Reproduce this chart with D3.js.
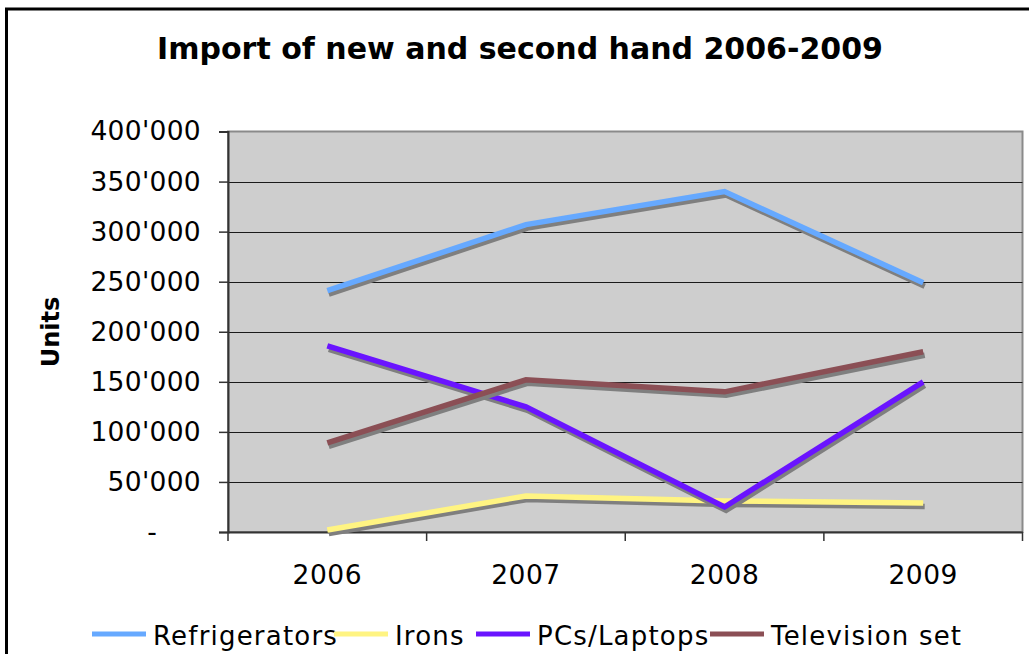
<!DOCTYPE html>
<html>
<head>
<meta charset="utf-8">
<script src="https://cdn.jsdelivr.net/npm/d3@7"></script>
<style>
  html, body { margin: 0; padding: 0; background: #fff; }
  svg { display: block; font-family: "DejaVu Sans", Verdana, sans-serif; }
</style>
</head>
<body>
<svg id="chart" width="1029" height="654"></svg>
<script>
const years = ["2006", "2007", "2008", "2009"];
const seriesNames = ["Refrigerators", "Irons", "PCs/Laptops", "Television set"];
const refrigerators = [241000, 307000, 340000, 249000];
const irons = [2000, 36000, 31000, 29000];
const pcsLaptops = [186000, 125000, 25000, 150000];
const televisionSet = [89000, 152000, 140000, 180000];
const yTicks = [0, 50000, 100000, 150000, 200000, 250000, 300000, 350000, 400000];
const colors = ["#66a9ff", "#fff482", "#6a14ff", "#8b4f55"];
const titleText = "Import of new and second hand 2006-2009";
const yTitle = "Units";

const seriesValues = [refrigerators, irons, pcsLaptops, televisionSet];

const svg = d3.select("#chart");
const L = 228, R = 1022.5, T = 131.5, B = 532;

// outer frame
svg.append("rect").attr("x", 6.5).attr("y", 9).attr("width", 1060).attr("height", 700)
  .attr("fill", "#fff").attr("stroke", "#000").attr("stroke-width", 3);

// title
svg.append("text").attr("x", 520).attr("y", 59).attr("text-anchor", "middle")
  .attr("font-weight", "bold").attr("font-size", 30).text(titleText);

const x = d3.scaleBand().domain(years).range([L, R]);
const y = d3.scaleLinear().domain([0, 400000]).range([B, T]);

// plot area
svg.append("rect").attr("x", L).attr("y", T).attr("width", R - L).attr("height", B - T)
  .attr("fill", "#cecece").attr("stroke", "#8a8a8a").attr("stroke-width", 2);

// gridlines
svg.append("g").selectAll("line").data(yTicks.filter(d => d > 0 && d < 400000)).join("line")
  .attr("x1", L).attr("x2", R).attr("y1", d => Math.round(y(d)) + 0.5).attr("y2", d => Math.round(y(d)) + 0.5)
  .attr("stroke", "#1a1a1a").attr("stroke-width", 1.2);

// y axis
const fmt = v => v === 0 ? "-" : d3.format(",")(v).replace(/,/g, "'");
const yAxis = d3.axisLeft(y).tickValues(yTicks).tickFormat(fmt).tickSize(9).tickPadding(18);
const gy = svg.append("g").attr("transform", `translate(${L},0)`).call(yAxis);
gy.select(".domain").attr("stroke", "#333").attr("stroke-width", 2);
gy.selectAll(".tick line").attr("stroke", "#333").attr("stroke-width", 1.5);
gy.selectAll(".tick text").attr("font-size", 26.5).attr("fill", "#000")
  .attr("font-family", "DejaVu Sans, Verdana, sans-serif").attr("letter-spacing", 0.3);
// accounting-style dash for zero sits left of the right edge
gy.selectAll(".tick text").filter(d => d === 0).attr("dx", -44);

// x axis
const xAxis = d3.axisBottom(x).tickSize(0).tickPadding(28);
const gx = svg.append("g").attr("transform", `translate(0,${B})`).call(xAxis);
gx.select(".domain").attr("stroke", "#333").attr("stroke-width", 2);
gx.selectAll(".tick text").attr("font-size", 26.5).attr("fill", "#000")
  .attr("font-family", "DejaVu Sans, Verdana, sans-serif").attr("dy", "0.9em").attr("letter-spacing", 0.5);
const bounds = years.map(d => x(d)).concat([x(years[years.length - 1]) + x.bandwidth()]);
gx.append("g").selectAll("line").data(bounds).join("line")
  .attr("x1", d => d).attr("x2", d => d).attr("y1", 0).attr("y2", 9)
  .attr("stroke", "#333").attr("stroke-width", 1.5);

// y title
svg.append("text").attr("transform", "translate(59,332) rotate(-90)").attr("text-anchor", "middle")
  .attr("font-weight", "bold").attr("font-size", 24).text(yTitle);

// lines with shadows
const line = d3.line().x((d, i) => x(years[i]) + x.bandwidth() / 2).y(d => y(d));
const plot = svg.append("g");
seriesValues.forEach((vals, k) => {
  plot.append("path").attr("d", line(vals)).attr("fill", "none")
    .attr("stroke", "#7f7f7f").attr("stroke-width", 5.5).attr("transform", "translate(1.5,3.5)");
  plot.append("path").attr("d", line(vals)).attr("fill", "none")
    .attr("stroke", colors[k]).attr("stroke-width", 5.5);
});

// legend
const legendX = [92, 334, 476, 710];
const lg = svg.append("g");
seriesNames.forEach((name, k) => {
  const x0 = legendX[k];
  lg.append("line").attr("x1", x0).attr("x2", x0 + 54).attr("y1", 634).attr("y2", 634)
    .attr("stroke", colors[k]).attr("stroke-width", 5);
  lg.append("text").attr("x", x0 + 61).attr("y", 645).attr("font-size", 26)
    .attr("letter-spacing", 1.2).text(name);
});
</script>
</body>
</html>
